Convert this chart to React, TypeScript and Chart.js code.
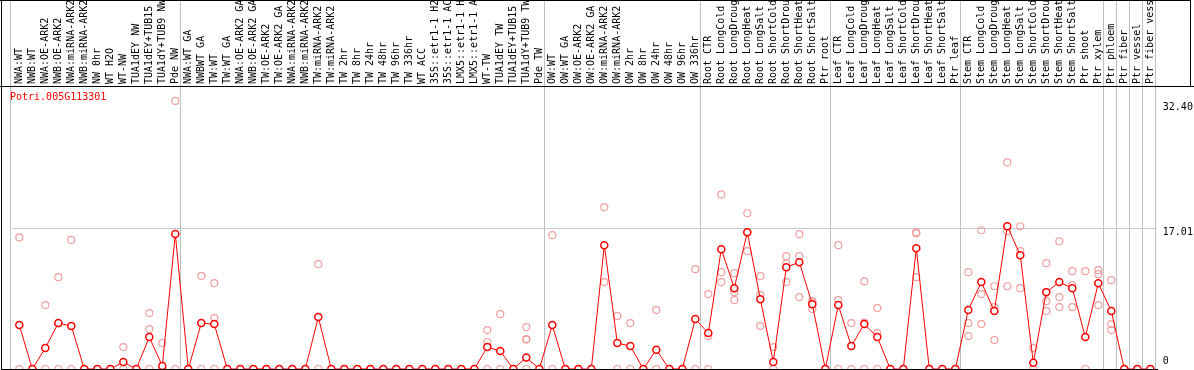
import React, { useEffect, useRef } from 'react';
import { Chart, registerables } from 'chart.js';

Chart.register(...registerables);

const geneName = 'Potri.005G113301';

const categories = [
  'NWA:WT', 'NWB:WT', 'NWA:OE-ARK2', 'NWB:OE-ARK2', 'NWA:miRNA-ARK2', 'NWB:miRNA-ARK2', 'NW 0hr', 'WT H2O',
  'WT-NW', 'TUA1dEY NW', 'TUA1dEY+TUB15', 'TUA1dY+TUB9 NW', 'Pde NW',
  'NWA:WT GA', 'NWBWT GA', 'TW:WT', 'TW:WT GA', 'NWA:OE-ARK2 GA', 'NWB:OE-ARK2 GA', 'TW:OE-ARK2', 'TW:OE-ARK2 GA',
  'NWA:miRNA-ARK2', 'NWB:miRNA-ARK2', 'TW:miRNA-ARK2', 'TW:miRNA-ARK2', 'TW 2hr', 'TW 8hr', 'TW 24hr', 'TW 48hr',
  'TW 96hr', 'TW 336hr', 'WT ACC', '35S::etr1-1 H2', '35S::etr1-1 AC', 'LMX5::etr1-1 H', 'LMX5::etr1-1 A',
  'WT-TW', 'TUA1dEY TW', 'TUA1dEY+TUB15', 'TUA1dY+TUB9 TW', 'Pde TW',
  'OW:WT', 'OW:WT GA', 'OW:OE-ARK2', 'OW:OE-ARK2 GA', 'OW:miRNA-ARK2', 'OW:miRNA-ARK2', 'OW 2hr', 'OW 8hr',
  'OW 24hr', 'OW 48hr', 'OW 96hr', 'OW 336hr',
  'Root CTR', 'Root LongCold', 'Root LongDroug', 'Root LongHeat', 'Root LongSalt', 'Root ShortCold',
  'Root ShortDrou', 'Root ShortHeat', 'Root ShortSalt', 'Ptr root',
  'Leaf CTR', 'Leaf LongCold', 'Leaf LongDroug', 'Leaf LongHeat', 'Leaf LongSalt', 'Leaf ShortCold',
  'Leaf ShortDrou', 'Leaf ShortHeat', 'Leaf ShortSalt', 'Ptr leaf',
  'Stem CTR', 'Stem LongCold', 'Stem LongDroug', 'Stem LongHeat', 'Stem LongSalt', 'Stem ShortCold',
  'Stem ShortDrou', 'Stem ShortHeat', 'Stem ShortSalt', 'Ptr shoot', 'Ptr xylem',
  'Ptr phloem', 'Ptr fiber', 'Ptr vessel', 'Ptr fiber vess',
];

// last category index of each group (a separator follows each)
const groupEnds = [12, 40, 52, 62, 72, 83, 84, 85, 86, 87];

const meanValues = [
  5.31, 0, 2.53, 5.55, 5.19, 0, 0, 0, 0.84, 0, 3.86, 0.36, 16.32,
  0, 5.55, 5.43, 0, 0, 0, 0, 0, 0, 0, 6.27, 0, 0, 0, 0, 0,
  0, 0, 0, 0, 0, 0, 0, 2.65, 2.17, 0, 1.4, 0,
  5.31, 0, 0, 0, 14.96, 3.14, 2.77, 0, 2.33, 0, 0, 6.03,
  4.34, 14.48, 9.77, 16.53, 8.44, 0.84, 12.3, 12.9, 7.84, 0,
  7.72, 2.77, 5.43, 3.86, 0, 0, 14.6, 0, 0, 0,
  7.12, 10.5, 7.0, 17.25, 13.75, 0.76, 9.29, 10.5, 9.77, 3.86, 10.37,
  7.0, 0, 0, 0,
];

const replicate1 = [
  15.9, 0, 7.72, 11.1, 15.6, 0, 0, 0, 2.65, 0, 6.76, 3.14, 32.4,
  0, 11.26, 10.37, 0, 0, 0, 0, 0, 0, 0, 12.67, 0, 0, 0, 0, 0,
  0, 0, 0, 0, 0, 0, 0, 4.7, 6.63, 0, 5.07, 0,
  16.17, 0, 0, 0, 19.54, 6.39, 5.55, 0, 7.12, 0, 0, 12.06,
  9.05, 21.1, 11.58, 18.82, 11.22, 2.65, 13.63, 16.29, 8.2, 0,
  14.96, 5.55, 10.6, 7.36, 0, 0, 16.5, 0, 0, 0,
  11.7, 16.77, 10.0, 24.97, 17.25, 2.53, 12.79, 15.44, 11.82, 11.82, 11.94,
  10.74, 0, 0, 0,
];

const replicate2 = [
  0, null, 0, 5.5, 0, null, null, null, 0, null, 4.83, 0, 0,
  null, 0, 6.15, null, null, null, null, null, null, null, 0, null, null, null, null, null,
  null, null, null, null, null, null, null, 3.26, 0, null, 3.62, null,
  0, null, null, null, 10.5, 0, 0, null, 0, null, null, 0,
  3.98, 11.7, 9.29, 16.5, 8.93, 0, 12.79, 13.63, 8.07, null,
  8.32, 0, 5.6, 4.34, null, null, 16.4, null, null, null,
  5.55, 9.05, 7.48, 16.65, 14.24, 0, 8.2, 8.69, 10.13, 0, 11.46,
  5.43, null, null, null,
];

const replicate3 = [
  null, null, null, 0, null, null, null, null, null, null, 0, null, null,
  null, null, 0, null, null, null, null, null, null, null, null, null, null, null, null, null,
  null, null, null, null, null, null, null, 0, null, null, 3.55, null,
  null, null, null, null, null, null, null, null, null, null, null, null,
  0, 10.5, 8.32, 14.24, 5.19, null, 10.5, 8.69, 7.24, null,
  0, null, 0, 0, null, null, 11.1, null, null, null,
  3.98, 5.43, 3.5, 10.0, 9.77, null, 7.0, 7.48, 7.48, null, 7.72,
  4.7, null, null, null,
];

const replicate4 = categories.map((_, i) => (i === 39 ? 0 : null));

const yTickValues = [0, 17.01, 32.4];
const yTickLabels = ['0', '17.01', '32.40'];
const yMax = 34.2;

const MONO = '"DejaVu Sans Mono", "Liberation Mono", monospace';
// per-tick line heights: shift each label slightly off its tick line
const yLabelLineHeights = [1.54, 0.8, 1.26];

const framePlugin = {
  id: 'frame',
  beforeDatasetsDraw(chart: any) {
    const { ctx, chartArea, scales } = chart;
    const x = scales.x;
    ctx.save();
    ctx.fillStyle = '#c0c0c0';
    const seps = [-0.69, ...groupEnds.map((i) => i + 0.38)];
    for (const s of seps) {
      const px = Math.round(x.getPixelForValue(s));
      ctx.fillRect(px, 0, 1, chartArea.bottom);
    }
    ctx.restore();
  },
  afterDraw(chart: any) {
    const { ctx, chartArea } = chart;
    ctx.save();
    ctx.fillStyle = '#000';
    ctx.fillRect(0, 0, 1191, 1);
    ctx.fillRect(0, 86, 1194, 1);
    ctx.fillRect(1, 0, 1, 380);
    ctx.fillRect(1190, 0, 1, 87);
    ctx.fillRect(1, Math.floor(chartArea.bottom), Math.round(chartArea.right), 1);
    ctx.fillStyle = '#ff0000';
    ctx.font = '10px ' + MONO;
    ctx.textBaseline = 'middle';
    ctx.textAlign = 'left';
    ctx.fillText(geneName, 10, 97.5);
    ctx.restore();
  },
};

export default function App() {
  const ref = useRef<HTMLCanvasElement | null>(null);

  useEffect(() => {
    document.body.style.margin = '0';
    document.body.style.overflow = 'hidden';
    document.documentElement.style.overflow = 'hidden';
    const canvas = ref.current;
    if (!canvas) return;
    const pointStyle = {
      showLine: false,
      pointRadius: 3.5,
      pointHoverRadius: 3.5,
      pointBorderWidth: 1.2,
      pointBorderColor: '#f0a0a0',
      pointBackgroundColor: 'rgba(0,0,0,0)',
      borderColor: '#f0a0a0',
      order: 1,
      clip: false as any,
    };
    const chart = new Chart(canvas, {
      type: 'line',
      data: {
        labels: categories,
        datasets: [
          {
            label: 'mean',
            data: meanValues,
            borderColor: '#ff0000',
            borderWidth: 1,
            pointRadius: 3.5,
            pointHoverRadius: 3.5,
            pointBorderWidth: 1.5,
            pointBorderColor: '#ff0000',
            pointBackgroundColor: '#ffffff',
            tension: 0,
            order: 0,
            clip: false as any,
          },
          { label: 'rep1', data: replicate1, ...pointStyle },
          { label: 'rep2', data: replicate2, ...pointStyle },
          { label: 'rep3', data: replicate3, ...pointStyle },
          { label: 'rep4', data: replicate4, ...pointStyle },
        ],
      },
      options: {
        responsive: false,
        animation: false,
        devicePixelRatio: 1,
        layout: { padding: { left: 12.8, right: 0, top: 0, bottom: 1 } },
        plugins: { legend: { display: false }, tooltip: { enabled: false }, title: { display: false } },
        scales: {
          x: {
            type: 'category',
            position: 'top',
            offset: true,
            grid: { display: false, drawTicks: false },
            border: { display: false },
            ticks: {
              autoSkip: false,
              minRotation: 90,
              maxRotation: 90,
              padding: 2,
              labelOffset: 12,
              color: '#000',
              font: { family: MONO, size: 10 },
            },
            afterFit: (s: any) => {
              s.height = 86;
              s.paddingLeft = 0;
              s.paddingRight = 0;
            },
          },
          y: {
            position: 'right',
            min: 0,
            max: yMax,
            afterBuildTicks: (s: any) => {
              s.ticks = yTickValues.map((v) => ({ value: v }));
            },
            grid: {
              drawTicks: false,
              color: (c: any) => (c.tick && c.tick.value === yTickValues[1] ? '#c8c8c8' : 'rgba(0,0,0,0)'),
            },
            border: { display: false },
            ticks: {
              autoSkip: false,
              padding: 6,
              color: '#000',
              font: (c: any) => {
                const i = c && c.tick ? yTickValues.indexOf(c.tick.value) : -1;
                return { family: MONO, size: 10, lineHeight: i >= 0 ? yLabelLineHeights[i] : 1.2 };
              },
              callback: (v: any) => {
                const i = yTickValues.indexOf(Number(v));
                const t = yTickLabels[i];
                return i === 0 ? [t, ''] : ['', t];
              },
            },
            afterFit: (s: any) => {
              s.width = 37.2;
              s.paddingTop = 0;
              s.paddingBottom = 0;
            },
          },
        },
      },
      plugins: [framePlugin],
    });
    return () => chart.destroy();
  }, []);

  return (
    <div style={{ width: 1194, height: 370, overflow: 'hidden', background: '#fff' }}>
      <canvas ref={ref} width={1194} height={374} style={{ display: 'block', width: 1194, height: 374 }} />
    </div>
  );
}
